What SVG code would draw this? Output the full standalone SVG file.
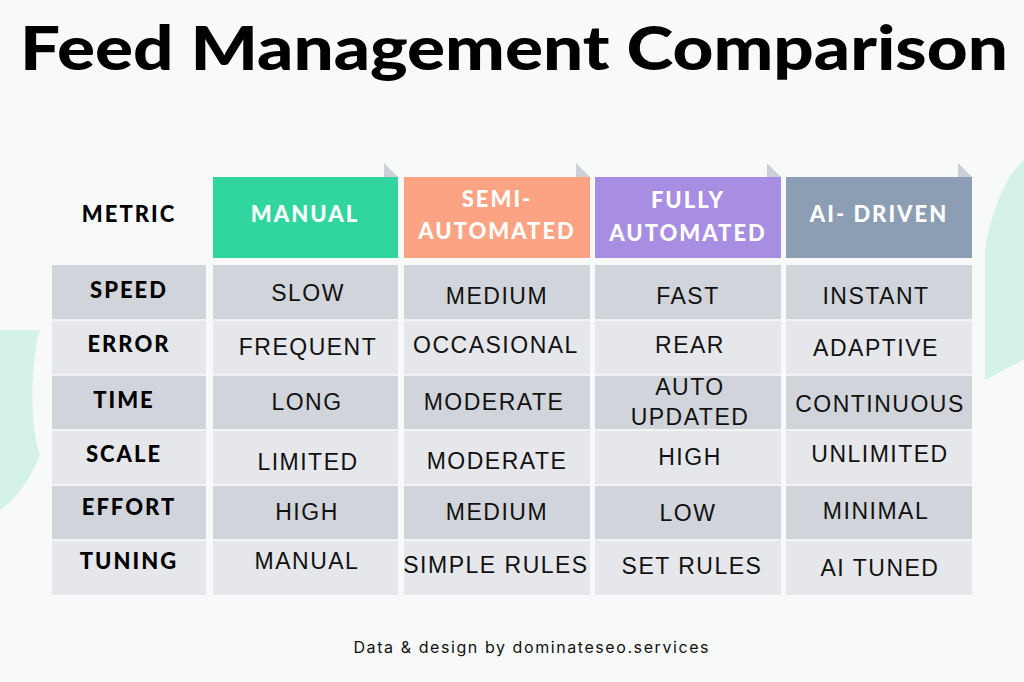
<svg xmlns="http://www.w3.org/2000/svg" width="1024" height="682" viewBox="0 0 1024 682">
<style>
.t{font-family:"Lato","Liberation Sans",Arial,sans-serif;font-weight:900;fill:#000;text-anchor:middle}
.h{font-family:"Lato","Liberation Sans",sans-serif;font-weight:900;fill:#fff;font-size:22px;text-anchor:middle;letter-spacing:2px}
.m{font-family:"Lato","Liberation Sans",sans-serif;font-weight:900;fill:#000;font-size:22px;text-anchor:middle;letter-spacing:2px}
.c{font-family:"Liberation Sans",Arial,sans-serif;fill:#111;font-size:23px;text-anchor:middle;letter-spacing:1.5px}
.d{fill:#d1d5db}.l{fill:#e5e7eb}.f{fill:#cbd0d8}
</style>
<rect width="1024" height="682" fill="#f8fafa"/>
<path d="M1024 160 C1000 180 988 230 985 250 L985 380 C1000 372 1012 365 1024 360 Z" fill="#d4f2e6"/>
<path d="M0 330 L40 330 C30 360 30 430 40 455 C30 480 15 500 0 510 Z" fill="#d4f2e6"/>
<text class="t" x="514" y="70" font-size="60" textLength="988" lengthAdjust="spacingAndGlyphs">Feed Management Comparison</text>
<g id="header">
<text class="m" x="129" y="222">METRIC</text>
<g id="h-manual"><path class="f" d="M384 163 L398 177 L384 177Z"/><rect x="213" y="177" width="185" height="81" fill="#31d69f"/><text class="h" x="305" y="222">MANUAL</text></g>
<g id="h-semi"><path class="f" d="M576 163 L590 177 L576 177Z"/><rect x="404" y="177" width="186" height="81" fill="#fba382"/><text class="h" x="497" y="207">SEMI-</text><text class="h" x="497" y="239">AUTOMATED</text></g>
<g id="h-fully"><path class="f" d="M767 163 L781 177 L767 177Z"/><rect x="595" y="177" width="186" height="81" fill="#a78ee2"/><text class="h" x="688" y="208">FULLY</text><text class="h" x="688" y="241">AUTOMATED</text></g>
<g id="h-ai"><path class="f" d="M958 163 L972 177 L958 177Z"/><rect x="786" y="177" width="186" height="81" fill="#8c9eb3"/><text class="h" x="879" y="222">AI- DRIVEN</text></g>
</g>
<g id="rows">
<rect class="d" x="52" y="265" width="154" height="55"/><rect class="d" x="213" y="265" width="185" height="55"/><rect class="d" x="404" y="265" width="186" height="55"/><rect class="d" x="595" y="265" width="186" height="55"/><rect class="d" x="786" y="265" width="186" height="55"/>
<rect class="l" x="52" y="320" width="154" height="55"/><rect class="l" x="213" y="320" width="185" height="55"/><rect class="l" x="404" y="320" width="186" height="55"/><rect class="l" x="595" y="320" width="186" height="55"/><rect class="l" x="786" y="320" width="186" height="55"/>
<rect class="d" x="52" y="375" width="154" height="55"/><rect class="d" x="213" y="375" width="185" height="55"/><rect class="d" x="404" y="375" width="186" height="55"/><rect class="d" x="595" y="375" width="186" height="55"/><rect class="d" x="786" y="375" width="186" height="55"/>
<rect class="l" x="52" y="430" width="154" height="55"/><rect class="l" x="213" y="430" width="185" height="55"/><rect class="l" x="404" y="430" width="186" height="55"/><rect class="l" x="595" y="430" width="186" height="55"/><rect class="l" x="786" y="430" width="186" height="55"/>
<rect class="d" x="52" y="485" width="154" height="55"/><rect class="d" x="213" y="485" width="185" height="55"/><rect class="d" x="404" y="485" width="186" height="55"/><rect class="d" x="595" y="485" width="186" height="55"/><rect class="d" x="786" y="485" width="186" height="55"/>
<rect class="l" x="52" y="540" width="154" height="55"/><rect class="l" x="213" y="540" width="185" height="55"/><rect class="l" x="404" y="540" width="186" height="55"/><rect class="l" x="595" y="540" width="186" height="55"/><rect class="l" x="786" y="540" width="186" height="55"/>
<g stroke="#f8fafa" stroke-width="1.5"><line x1="52" y1="320" x2="972" y2="320"/><line x1="52" y1="375" x2="972" y2="375"/><line x1="52" y1="430" x2="972" y2="430"/><line x1="52" y1="485" x2="972" y2="485"/><line x1="52" y1="540" x2="972" y2="540"/></g>
<text class="m" x="129" y="298">SPEED</text><text class="m" x="129" y="352">ERROR</text><text class="m" x="124" y="408">TIME</text><text class="m" x="124" y="462">SCALE</text><text class="m" x="129" y="515">EFFORT</text><text class="m" x="129" y="569">TUNING</text>
<text class="c" x="308" y="301">SLOW</text><text class="c" x="497" y="304">MEDIUM</text><text class="c" x="688" y="304">FAST</text><text class="c" x="876" y="304">INSTANT</text>
<text class="c" x="308" y="355">FREQUENT</text><text class="c" x="496" y="353" font-size="21">OCCASIONAL</text><text class="c" x="690" y="353">REAR</text><text class="c" x="876" y="356">ADAPTIVE</text>
<text class="c" x="307" y="410">LONG</text><text class="c" x="494" y="410">MODERATE</text><text class="c" x="690" y="395">AUTO</text><text class="c" x="690" y="425">UPDATED</text><text class="c" x="880" y="412" font-size="21.5">CONTINUOUS</text>
<text class="c" x="308" y="470">LIMITED</text><text class="c" x="497" y="469">MODERATE</text><text class="c" x="690" y="465">HIGH</text><text class="c" x="880" y="462" font-size="21.5">UNLIMITED</text>
<text class="c" x="307" y="520">HIGH</text><text class="c" x="497" y="520">MEDIUM</text><text class="c" x="688" y="521">LOW</text><text class="c" x="876" y="519" font-size="21.5">MINIMAL</text>
<text class="c" x="307" y="569">MANUAL</text><text class="c" x="496" y="573" font-size="20.5">SIMPLE RULES</text><text class="c" x="692" y="574">SET RULES</text><text class="c" x="880" y="576">AI TUNED</text>
</g>
<text x="531" y="653" font-family="Inter,'Liberation Sans',sans-serif" font-size="16" fill="#111" text-anchor="middle" textLength="355">Data &amp; design by dominateseo.services</text>
</svg>
